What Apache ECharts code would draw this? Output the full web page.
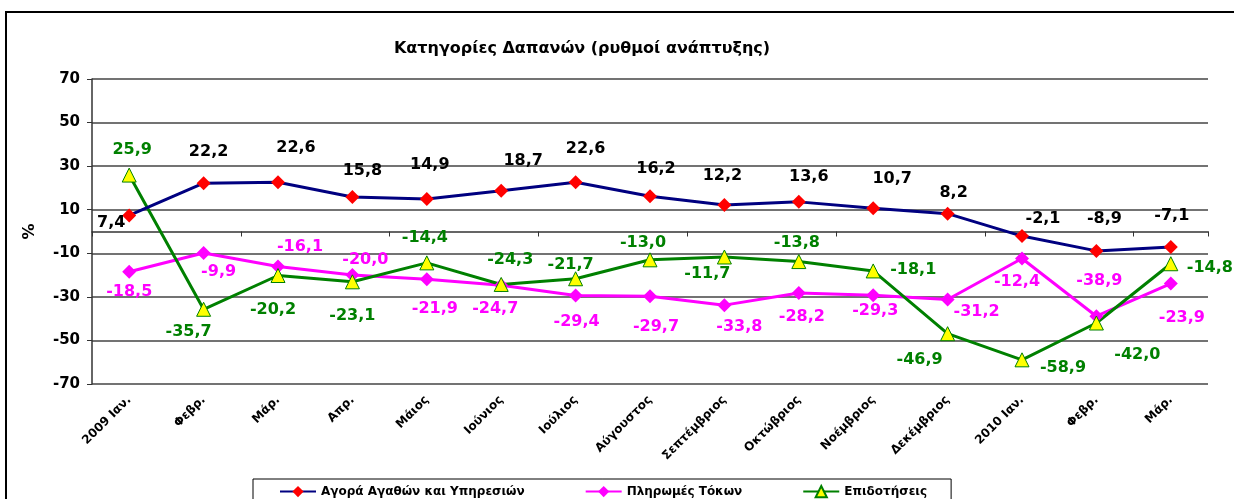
<!DOCTYPE html>
<html>
<head>
<meta charset="utf-8">
<script src="https://cdn.jsdelivr.net/npm/echarts@6/dist/echarts.min.js"></script>
<style>
html,body{margin:0;padding:0;background:#fff;}
#chart{width:1234px;height:499px;}
</style>
</head>
<body>
<div id="chart"></div>
<script>
// ---- data ----
const categories = ["2009 Ιαν.", "Φεβρ.", "Μάρ.", "Απρ.", "Μάιος", "Ιούνιος", "Ιούλιος", "Αύγουστος", "Σεπτέμβριος", "Οκτώβριος", "Νοέμβριος", "Δεκέμβριος", "2010 Ιαν.", "Φεβρ.", "Μάρ."];
const seriesNames = ["Αγορά Αγαθών και Υπηρεσιών", "Πληρωμές Τόκων", "Επιδοτήσεις"];
const agoraValues = [7.4, 22.2, 22.6, 15.8, 14.9, 18.7, 22.6, 16.2, 12.2, 13.6, 10.7, 8.2, -2.1, -8.9, -7.1];
const tokoiValues = [-18.5, -9.9, -16.1, -20.0, -21.9, -24.7, -29.4, -29.7, -33.8, -28.2, -29.3, -31.2, -12.4, -38.9, -23.9];
const epidotiseisValues = [25.9, -35.7, -20.2, -23.1, -14.4, -24.3, -21.7, -13.0, -11.7, -13.8, -18.1, -46.9, -58.9, -42.0, -14.8];
const yTicks = [-70, -50, -30, -10, 10, 30, 50, 70];

// ---- label placement (styling) ----
const agoraLabelOffsets = [[-18,7],[5,-31],[18,-34],[10,-26],[3,-34],[22,-30],[10,-33],[6,-27],[-2,-29],[10,-25],[19,-29],[6,-21],[21,-17],[8,-32],[1,-31]];
const tokoiLabelOffsets = [[0,20],[15,19],[22,-20],[13,-15],[8,30],[-6,24],[1,26],[6,31],[15,22],[3,24],[2,16],[29,12],[-5,23],[3,-35],[11,34]];
const epidLabelOffsets = [[3,-25],[-15,23],[-5,34],[0,34],[-2,-25],[9,-25],[-5,-14],[-7,-17],[-17,17],[-2,-19],[40,-1],[-28,26],[41,8],[41,32],[39,4]];

const FONT = '"DejaVu Sans", sans-serif';
function fmt(v){ return v.toFixed(1).replace('.', ','); }
function withLabels(values, offsets){
  return values.map((v,i)=>({value:v, label:{offset:offsets[i]}}));
}

const chart = echarts.init(document.getElementById('chart'), null, {renderer:'canvas'});
const option = {
  animation:false,
  backgroundColor:'#ffffff',
  title:{
    text:'Κατηγορίες Δαπανών (ρυθμοί ανάπτυξης)',
    left:577, top:36, textAlign:'center',
    textStyle:{fontFamily:FONT, fontSize:16, fontWeight:'bold', color:'#000'}
  },
  graphic:[{
    type:'rect', shape:{x:6, y:12, width:1300, height:600},
    style:{fill:'none', stroke:'#000', lineWidth:2}, silent:true, z:-1
  }],
  legend:{
    left:253, top:479,
    data:seriesNames,
    itemWidth:36, itemHeight:14, itemGap:60,
    padding:[6,24,8,26],
    borderColor:'#000', borderWidth:1,
    textStyle:{fontFamily:FONT, fontSize:12, fontWeight:'bold', color:'#000'}
  },
  grid:{left:92, right:26, top:79, bottom:115, containLabel:false},
  xAxis:[{
    type:'category', data:categories, boundaryGap:true,
    axisLine:{show:false}, axisTick:{show:false},
    axisLabel:{rotate:45, interval:0, margin:14, fontFamily:FONT, fontSize:12, fontWeight:'bold', color:'#000'}
  },{
    type:'category', data:categories, boundaryGap:true, position:'bottom',
    axisLine:{show:true, onZero:true, onZeroAxisIndex:0, lineStyle:{color:'#333', width:1.5}},
    axisTick:{show:true, length:5, lineStyle:{color:'#333'}},
    axisLabel:{show:false}
  }],
  yAxis:{
    type:'value', min:-70, max:70, interval:20,
    name:'%', nameLocation:'middle', nameGap:54, nameRotate:90,
    nameTextStyle:{fontFamily:FONT, fontSize:16, fontWeight:'bold', color:'#000'},
    axisLine:{show:true, lineStyle:{color:'#333', width:1.5}},
    axisTick:{show:true, length:5, lineStyle:{color:'#333'}},
    axisLabel:{margin:12, fontFamily:FONT, fontSize:15, fontWeight:'bold', color:'#000',
      customValues: yTicks},
    splitLine:{show:true, lineStyle:{color:'#444', width:1.5}}
  },
  series:[{
    name:seriesNames[0], type:'line', xAxisIndex:0,
    data:withLabels(agoraValues, agoraLabelOffsets),
    symbol:'diamond', symbolSize:14,
    lineStyle:{color:'#000080', width:3},
    itemStyle:{color:'#ff0000', borderWidth:0},
    label:{show:true, position:'inside', formatter:p=>fmt(p.value), fontFamily:FONT, fontSize:16, fontWeight:'bold', color:'#000'},
    z:4
  },{
    name:seriesNames[1], type:'line', xAxisIndex:0,
    data:withLabels(tokoiValues, tokoiLabelOffsets),
    symbol:'diamond', symbolSize:14,
    lineStyle:{color:'#ff00ff', width:3},
    itemStyle:{color:'#ff00ff', borderWidth:0},
    label:{show:true, position:'inside', formatter:p=>fmt(p.value), fontFamily:FONT, fontSize:16, fontWeight:'bold', color:'#ff00ff'},
    z:3
  },{
    name:seriesNames[2], type:'line', xAxisIndex:0,
    data:withLabels(epidotiseisValues, epidLabelOffsets),
    symbol:'triangle', symbolSize:14,
    lineStyle:{color:'#008000', width:3},
    itemStyle:{color:'#ffff00', borderColor:'#008000', borderWidth:1},
    label:{show:true, position:'inside', formatter:p=>fmt(p.value), fontFamily:FONT, fontSize:16, fontWeight:'bold', color:'#008000'},
    z:3
  }]
};
chart.setOption(option);
</script>
</body>
</html>
